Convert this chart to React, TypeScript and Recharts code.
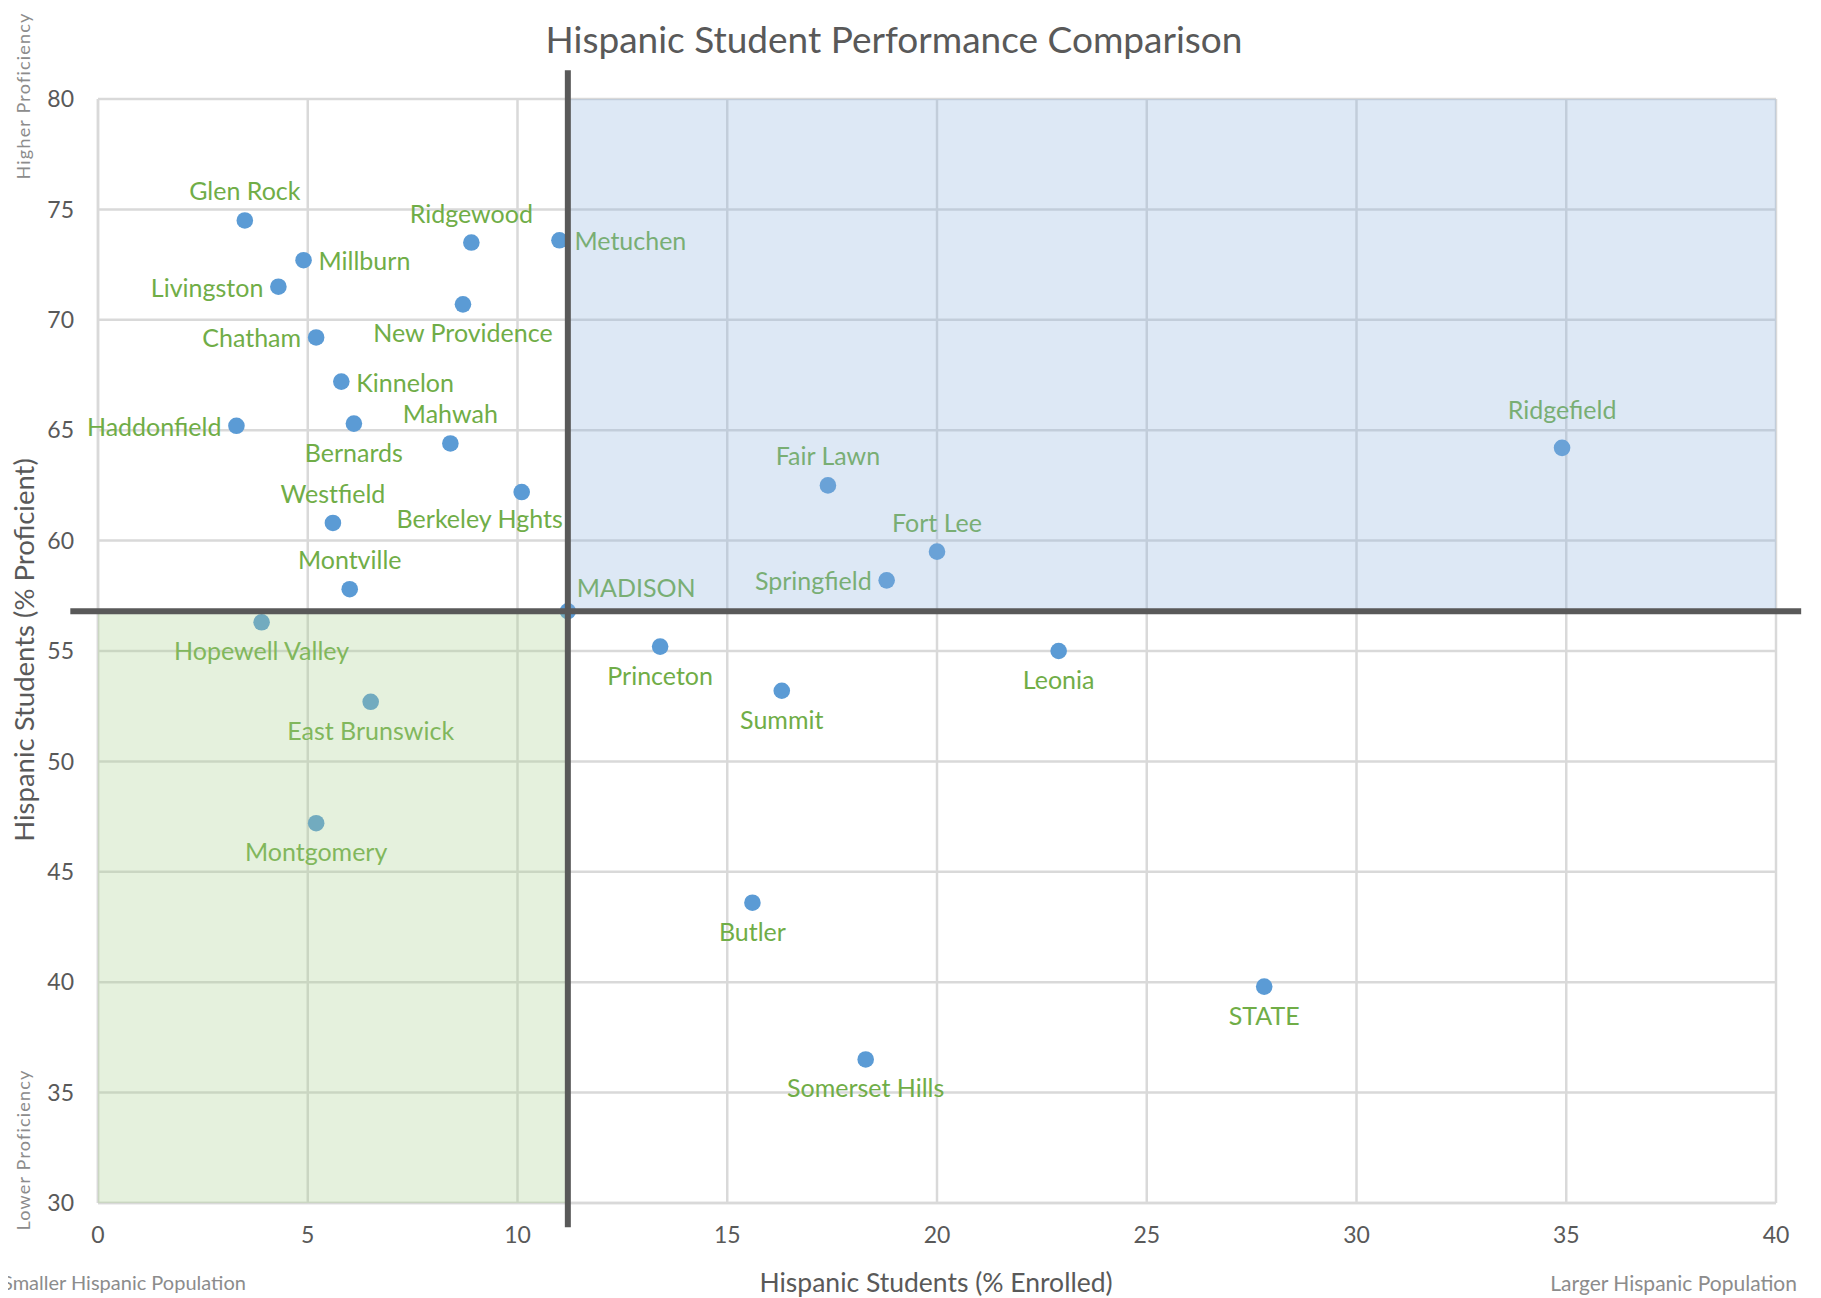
import React from 'react';
import { ScatterChart, Scatter, XAxis, YAxis, CartesianGrid, ReferenceArea, ReferenceLine } from 'recharts';

const districts = [
  'Glen Rock', 'Millburn', 'Livingston', 'Ridgewood', 'Metuchen', 'New Providence', 'Chatham',
  'Kinnelon', 'Haddonfield', 'Bernards', 'Mahwah', 'Berkeley Hghts', 'Westfield', 'Montville',
  'Hopewell Valley', 'MADISON', 'East Brunswick', 'Montgomery', 'Princeton', 'Summit', 'Fair Lawn',
  'Fort Lee', 'Springfield', 'Leonia', 'Ridgefield', 'Butler', 'STATE', 'Somerset Hills',
];
const enrolled = [
  3.5, 4.9, 4.3, 8.9, 11.0, 8.7, 5.2,
  5.8, 3.3, 6.1, 8.4, 10.1, 5.6, 6.0,
  3.9, 11.2, 6.5, 5.2, 13.4, 16.3, 17.4,
  20.0, 18.8, 22.9, 34.9, 15.6, 27.8, 18.3,
];
const proficient = [
  74.5, 72.7, 71.5, 73.5, 73.6, 70.7, 69.2,
  67.2, 65.2, 65.3, 64.4, 62.2, 60.8, 57.8,
  56.3, 56.8, 52.7, 47.2, 55.2, 53.2, 62.5,
  59.5, 58.2, 55.0, 64.2, 43.6, 39.8, 36.5,
];
// label placement relative to each point
const labelSides = [
  'top', 'right', 'left', 'top', 'right', 'bottom', 'left',
  'right', 'left', 'bottom', 'top', 'bottomShift', 'top', 'top',
  'bottom', 'rightUp', 'bottom', 'bottom', 'bottom', 'bottom', 'top',
  'top', 'left', 'bottom', 'topHigh', 'bottom', 'bottom', 'bottom',
];
const xTicks = [0, 5, 10, 15, 20, 25, 30, 35, 40];
const yTicks = [30, 35, 40, 45, 50, 55, 60, 65, 70, 75, 80];

const title = 'Hispanic Student Performance Comparison';
const xLabel = 'Hispanic Students (% Enrolled)';
const yLabel = 'Hispanic Students (% Proficient)';

const data = districts.map((name, i) => ({ name, x: enrolled[i], y: proficient[i], side: labelSides[i] }));
const madIdx = districts.indexOf('MADISON');
const madX = enrolled[madIdx];
const madY = proficient[madIdx];

const FONT = 'Lato, "Open Sans", sans-serif';
const W = 1813;
const H = 1290;

const PointShape = (props: any) => {
  const { cx, cy, payload } = props;
  if (cx == null || cy == null) return null;
  const side = payload.side;
  let tx = cx;
  let ty = cy;
  let anchor: 'start' | 'middle' | 'end' = 'middle';
  if (side === 'top') { ty = cy - 30; }
  else if (side === 'topHigh') { ty = cy - 39; }
  else if (side === 'bottom') { ty = cy + 28; }
  else if (side === 'left') { tx = cx - 15; anchor = 'end'; }
  else if (side === 'right') { tx = cx + 15; anchor = 'start'; }
  else if (side === 'bottomShift') { tx = cx - 42; ty = cy + 26; }
  else if (side === 'rightUp') { tx = cx + 9; ty = cy - 24; anchor = 'start'; }
  return (
    <g>
      <circle cx={cx} cy={cy} r={8.3} fill="#5b9bd5" />
      <text x={tx} y={ty} textAnchor={anchor} dominantBaseline="central" fill="#70ad47"
        fontSize={25} fontFamily={FONT}>{payload.name}</text>
    </g>
  );
};

export default function App() {
  return (
    <div style={{ position: 'relative', width: W, height: H, fontFamily: FONT }}>
      <ScatterChart width={W} height={H} margin={{ top: 91, right: 45, bottom: 45, left: 0 }}>
        <CartesianGrid stroke="#d9d9d9" strokeWidth={2.5} />
        <XAxis type="number" dataKey="x" domain={[0, 40]} ticks={xTicks} interval={0}
          tickLine={false} axisLine={{ stroke: '#d9d9d9', strokeWidth: 2.5 }} tickMargin={18} height={50}
          tick={{ fill: '#595959', fontSize: 23, fontFamily: FONT }} />
        <YAxis type="number" dataKey="y" domain={[30, 80]} ticks={yTicks} interval={0}
          tickLine={false} axisLine={{ stroke: '#d9d9d9', strokeWidth: 2.5 }} tickMargin={18} width={90}
          tick={{ fill: '#595959', fontSize: 23, fontFamily: FONT }} />
        <ReferenceArea x1={madX} x2={40} y1={madY} y2={80} fill="#8fb4de" fillOpacity={0.3} stroke="none" zIndex={700} />
        <Scatter data={data} isAnimationActive={false} shape={PointShape} />
        <ReferenceArea x1={0} x2={madX} y1={30} y2={madY} fill="#a9d18e" fillOpacity={0.3} stroke="none" zIndex={700} />
        <ReferenceLine ifOverflow="visible" segment={[{ x: madX, y: 28.9 }, { x: madX, y: 81.3 }]}
          stroke="#595959" strokeWidth={6} zIndex={800} />
        <ReferenceLine ifOverflow="visible" segment={[{ x: -0.66, y: madY }, { x: 40.6, y: madY }]}
          stroke="#595959" strokeWidth={6} zIndex={800} />
      </ScatterChart>
      <svg width={W} height={H} style={{ position: 'absolute', left: 0, top: 0, pointerEvents: 'none', overflow: 'visible' }}>
        <line x1={1806} y1={0} x2={1806} y2={H} stroke="#d9d9d9" strokeWidth={2} />
        <text x={886} y={30} textAnchor="middle" dominantBaseline="central" fill="#595959" fontSize={37} fontFamily={FONT}>{title}</text>
        <text x={928} y={1274} textAnchor="middle" dominantBaseline="central" fill="#595959" fontSize={26.5} fontFamily={FONT}>{xLabel}</text>
        <text transform="translate(15,642) rotate(-90)" textAnchor="middle" dominantBaseline="central" fill="#595959" fontSize={27.5} fontFamily={FONT}>{yLabel}</text>
        <text transform="translate(15,88) rotate(-90)" textAnchor="middle" dominantBaseline="central" fill="#8c8c8c" fontSize={18} fontFamily={FONT} letterSpacing={1.2}>Higher Proficiency</text>
        <text transform="translate(15,1142) rotate(-90)" textAnchor="middle" dominantBaseline="central" fill="#8c8c8c" fontSize={18} fontFamily={FONT} letterSpacing={1.2}>Lower Proficiency</text>
        <text x={-6} y={1274} textAnchor="start" dominantBaseline="central" fill="#8c8c8c" fontSize={20} fontFamily={FONT}>Smaller Hispanic Population</text>
        <text x={1789} y={1274} textAnchor="end" dominantBaseline="central" fill="#8c8c8c" fontSize={21} fontFamily={FONT}>Larger Hispanic Population</text>
      </svg>
    </div>
  );
}
